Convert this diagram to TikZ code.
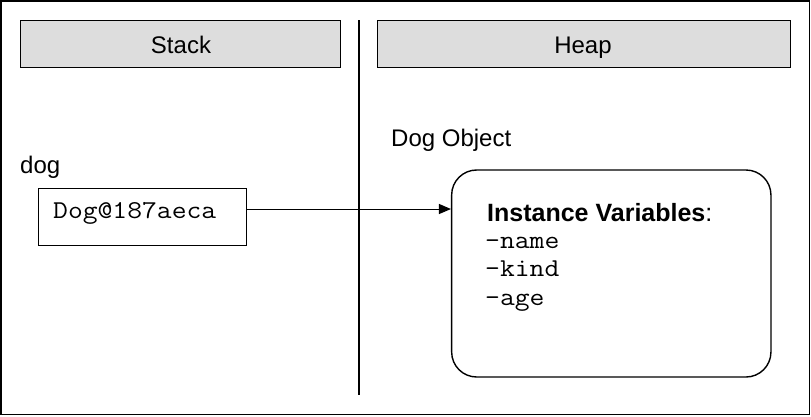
\documentclass[tikz,border=0pt]{standalone}
\usepackage{fontspec}
\setmainfont{Liberation Sans}
\setmonofont{Latin Modern Mono}[FakeStretch=1.12]
\usetikzlibrary{arrows.meta}
\begin{document}
\begin{tikzpicture}[x=1pt,y=-1pt,
  header/.style={draw=black,line width=1pt,fill=hdrgray,minimum height=47pt,inner sep=0pt},
  plainbox/.style={draw=black,line width=1pt,inner sep=0pt},
  objbox/.style={draw=black,line width=1.4pt,rounded corners=25pt,inner sep=0pt},
  lbl/.style={anchor=base west,inner sep=0pt,font=\fontsize{24}{28}\selectfont},
  htext/.style={anchor=base,inner sep=0pt,font=\fontsize{24}{28}\selectfont},
  code/.style={anchor=base west,inner sep=0pt,font=\fontsize{25.7}{28}\ttfamily},
  arr/.style={line width=1pt,-{Triangle[length=12pt,width=10pt]}}]
\definecolor{hdrgray}{HTML}{DDDDDD}
\useasboundingbox (0,0) rectangle (811,416);
\draw[line width=1.3pt] (1,1) rectangle (809.5,414.5);
% headers
\node[header,minimum width=320pt] (stack) at (180,43.7) {};
\node[header,minimum width=413pt] (heap) at (583.5,43.7) {};
\node[htext] (stacktxt) at (181,53.5) {Stack};
\node[htext] (heaptxt) at (583,53.5) {Heap};
% divider
\coordinate (dtop) at (359,20);
\coordinate (dbot) at (359,395);
\draw[line width=1.2pt] (dtop) -- (dbot);
% stack side
\node[lbl] (doglbl) at (20,173) {dog};
\node[plainbox,minimum width=207.7pt,minimum height=56.7pt] (dogbox) at (142.8,217.3) {};
\node[code] (dogref) at (53,218.3) {Dog@187aeca};
% heap side
\node[lbl] (objlbl) at (391,146.7) {Dog Object};
\node[objbox,minimum width=319.3pt,minimum height=207pt] (obj) at (611.3,273.5) {};
\node[lbl,font=\fontsize{25}{28}\selectfont] (ivars) at (487,221.7) {\textbf{Instance Variables}:};
\node[code] (v1) at (485,248.3) {-name};
\node[code] (v2) at (485,276.7) {-kind};
\node[code] (v3) at (485,305) {-age};
% reference arrow
\draw[arr] ([yshift=8.3pt]dogbox.east) coordinate (a0) -- (a0 -| obj.west);
\end{tikzpicture}
\end{document}
